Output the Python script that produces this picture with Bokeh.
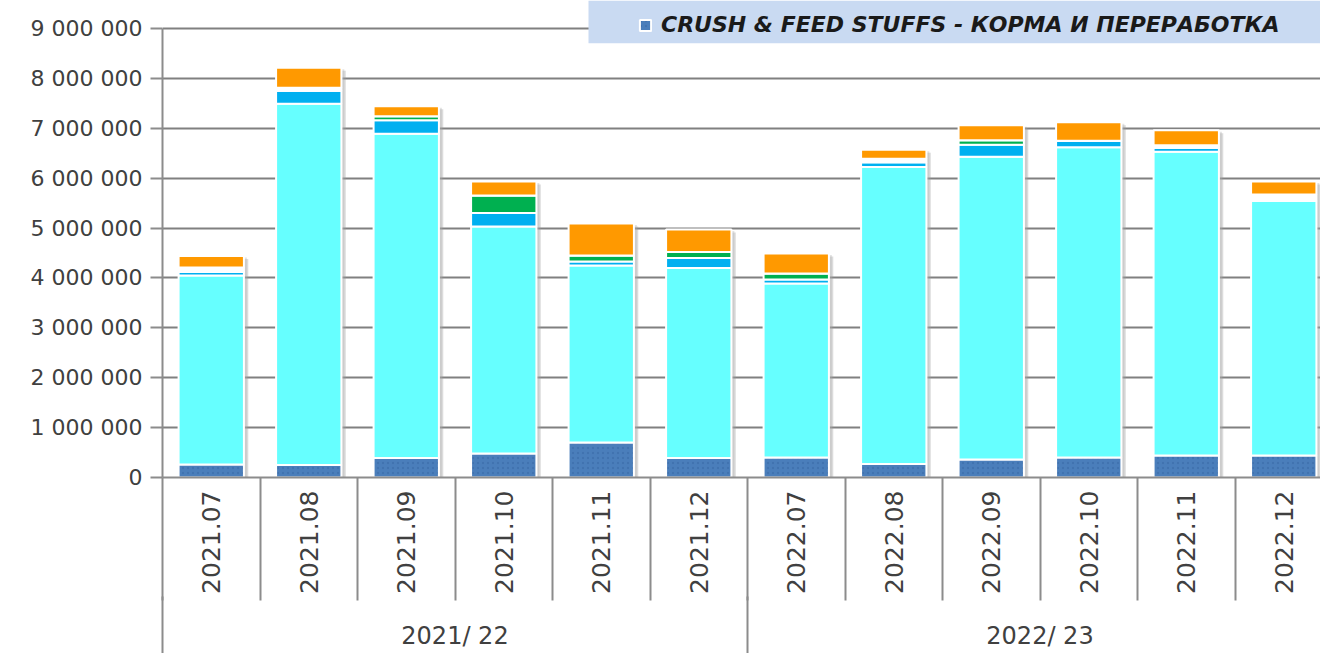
import math
from bokeh.plotting import figure
from bokeh.models import (Range1d, FixedTicker, LinearAxis, Legend, LegendItem,
                          BoxAnnotation, ColumnDataSource)
from bokeh.embed import file_html
from bokeh.resources import INLINE

# ---------------- data ----------------
MONTHS = ["2021.07", "2021.08", "2021.09", "2021.10", "2021.11", "2021.12",
          "2022.07", "2022.08", "2022.09", "2022.10", "2022.11", "2022.12"]
SEASONS = ["2021/ 22", "2022/ 23"]
SEASON_CENTERS = [3, 9]
SEASON_EDGES = [0, 6]

CRUSH_FEED = [260000, 250000, 390000, 480000, 700000, 390000,
              400000, 270000, 360000, 400000, 440000, 440000]
CYAN_SERIES = [3790000, 7240000, 6500000, 4550000, 3550000, 3810000,
               3490000, 5950000, 6070000, 6220000, 6090000, 5100000]
LIGHTBLUE_SERIES = [70000, 260000, 270000, 270000, 80000, 200000,
                    80000, 100000, 240000, 130000, 80000, 0]
GREEN_SERIES = [0, 0, 80000, 350000, 120000, 120000,
                120000, 0, 90000, 0, 0, 0]
BLANK_SERIES = [90000, 60000, 0, 0, 0, 0,
                0, 70000, 0, 0, 50000, 130000]
ORANGE_SERIES = [230000, 400000, 200000, 280000, 640000, 450000,
                 400000, 180000, 300000, 370000, 300000, 260000]

Y_TICKS = [0, 1000000, 2000000, 3000000, 4000000, 5000000,
           6000000, 7000000, 8000000, 9000000]
Y_TICK_LABELS = ["0", "1 000 000", "2 000 000", "3 000 000", "4 000 000",
                 "5 000 000", "6 000 000", "7 000 000", "8 000 000", "9 000 000"]

LEGEND_LABEL = "CRUSH & FEED STUFFS - КОРМА И ПЕРЕРАБОТКА"

# ---------------- layout constants ----------------
W, H = 1320, 653
FRAME_LEFT = 162
FRAME_W = W - FRAME_LEFT
CAT_PX = 97.5
FRAME_H = 477
BOTTOM_BORDER = H - FRAME_H
PX_PER_UNIT = 49.9 / 1e6
Y_MAX = FRAME_H / PX_PER_UNIT
BAR_W = 0.67
FONT = "DejaVu Sans"
TEXT_COLOR = "#404040"
AXIS_COLOR = "#8c8c8c"

series = [
    (CRUSH_FEED, "#4a7ebb"),
    (CYAN_SERIES, "#66ffff"),
    (LIGHTBLUE_SERIES, "#00b0f0"),
    (GREEN_SERIES, "#00b050"),
    (BLANK_SERIES, "#ffffff"),
    (ORANGE_SERIES, "#ff9900"),
]

xs = [i + 0.5 for i in range(len(MONTHS))]

p = figure(width=W, height=H, output_backend="svg", toolbar_location=None,
           x_range=Range1d(0, FRAME_W / CAT_PX), y_range=Range1d(0, Y_MAX),
           min_border_left=FRAME_LEFT, min_border_right=0, min_border_top=0,
           min_border_bottom=BOTTOM_BORDER)
p.outline_line_color = None
p.background_fill_color = "#ffffff"
p.border_fill_color = "#ffffff"

# shadows
totals = [sum(s[0][i] for s in series) for i in range(len(MONTHS))]
sh_src = ColumnDataSource(dict(x=[x + 0.045 for x in xs],
                               top=[t - 60000 for t in totals]))
p.vbar(x="x", top="top", bottom=0, width=BAR_W, source=sh_src,
       fill_color="#9a9a9a", fill_alpha=0.35, line_color=None)
sh_src2 = ColumnDataSource(dict(x=[x + 0.03 for x in xs],
                                top=[t - 30000 for t in totals]))
p.vbar(x="x", top="top", bottom=0, width=BAR_W, source=sh_src2,
       fill_color="#b0b0b0", fill_alpha=0.35, line_color=None)

bottoms = [0] * len(MONTHS)
renderers = []
for vals, color in series:
    tops = [b + v for b, v in zip(bottoms, vals)]
    src = ColumnDataSource(dict(x=xs, bottom=bottoms, top=tops))
    kw = {}
    if color == "#4a7ebb":
        kw = dict(hatch_pattern="dot", hatch_color="#3b6aa6", hatch_scale=5,
                  hatch_alpha=0.6)
    r = p.vbar(x="x", bottom="bottom", top="top", width=BAR_W, source=src,
               fill_color=color, line_color="#ffffff", line_width=2, **kw)
    renderers.append(r)
    bottoms = tops

# y axis
yax = p.yaxis[0]
yax.ticker = FixedTicker(ticks=Y_TICKS, minor_ticks=[])
yax.major_label_overrides = {t: l for t, l in zip(Y_TICKS, Y_TICK_LABELS)}
yax.bounds = (0, Y_TICKS[-1])
yax.major_tick_out = 12
yax.major_tick_in = 0
yax.minor_tick_line_color = None
yax.axis_line_color = AXIS_COLOR
yax.axis_line_width = 2
yax.major_tick_line_color = AXIS_COLOR
yax.major_tick_line_width = 2
yax.major_label_text_font = FONT
yax.major_label_text_font_size = "22px"
yax.major_label_text_color = TEXT_COLOR
yax.major_label_standoff = 8

p.ygrid.ticker = FixedTicker(ticks=Y_TICKS)
p.ygrid.grid_line_color = "#808080"
p.ygrid.grid_line_width = 2
p.xgrid.grid_line_color = None

# x axis (months): separators as long minor ticks, labels pulled up
SEP1 = 123
xax = p.xaxis[0]
xax.ticker = FixedTicker(ticks=xs, minor_ticks=list(range(len(MONTHS) + 1)))
xax.major_label_overrides = {x: m for x, m in zip(xs, MONTHS)}
xax.major_tick_out = 0
xax.major_tick_in = 0
xax.minor_tick_out = SEP1
xax.minor_tick_in = 0
xax.minor_tick_line_color = AXIS_COLOR
xax.minor_tick_line_width = 2
xax.axis_line_color = AXIS_COLOR
xax.axis_line_width = 2
xax.major_label_orientation = math.pi / 2
xax.major_label_text_font = FONT
xax.major_label_text_font_size = "25px"
xax.major_label_text_color = TEXT_COLOR
xax.major_label_standoff = 13 - SEP1

# x axis (seasons): long separators + season labels
SEP2 = 60
sax = LinearAxis(ticker=FixedTicker(ticks=SEASON_CENTERS, minor_ticks=SEASON_EDGES),
                 major_label_overrides={c: s for c, s in zip(SEASON_CENTERS, SEASONS)})
sax.axis_line_color = None
sax.major_tick_out = 0
sax.major_tick_in = 0
sax.minor_tick_out = SEP2
sax.minor_tick_in = 0
sax.minor_tick_line_color = AXIS_COLOR
sax.minor_tick_line_width = 2
sax.major_label_text_font = FONT
sax.major_label_text_font_size = "24px"
sax.major_label_text_color = TEXT_COLOR
sax.major_label_standoff = -35
p.add_layout(sax, "below")

# legend background + legend
box = BoxAnnotation(left=(588 - FRAME_LEFT) / CAT_PX, bottom=8.70e6,
                    fill_color="#c9daf2", fill_alpha=1.0, line_color=None)
p.add_layout(box)

legend = Legend(items=[LegendItem(label=LEGEND_LABEL, renderers=[renderers[0]])],
                location=(476, 440), background_fill_alpha=0,
                border_line_alpha=0, padding=0, margin=0, spacing=0,
                glyph_width=14, glyph_height=14, label_standoff=9,
                label_text_font=FONT, label_text_font_style="bold italic",
                label_text_font_size="22px", label_text_color="#1a1a1a")
p.add_layout(legend)

open("out.html", "w").write(file_html(p, INLINE))
